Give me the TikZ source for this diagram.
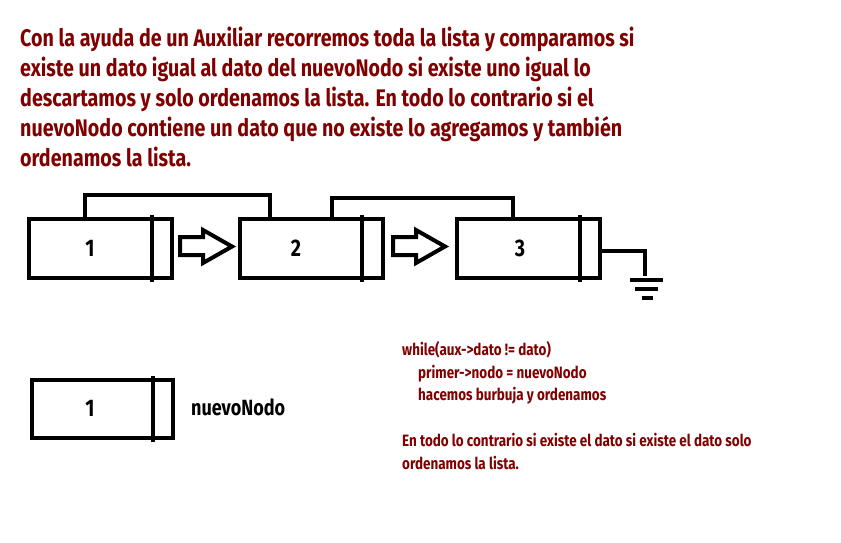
\documentclass[tikz,border=0pt]{standalone}
\usepackage{fontspec}
\newfontfamily\cond[FakeStretch=0.82]{Fira Sans}
\definecolor{dred}{RGB}{128,0,0}
\begin{document}
\begin{tikzpicture}[x=1pt,y=-1pt,
  lbox/.style={draw,line width=4pt,minimum width=143pt,minimum height=59pt,inner sep=0pt},
  wire/.style={line width=4pt},
  blockarrow/.style={draw,line width=4pt,line join=miter},
  num/.style={font=\cond\bfseries\fontsize{24}{24}\selectfont},
  code/.style={font=\cond\bfseries\fontsize{16.4}{22.8}\selectfont,text=dred,align=left,anchor=north west,inner sep=0pt}]
\useasboundingbox (0,0) rectangle (841,543);
% title
\node[anchor=north west,inner sep=0pt,align=left,text=dred,font=\cond\bfseries\fontsize{24}{30}\selectfont] (title) at (20,27)
 {Con la ayuda de un Auxiliar recorremos toda la lista y comparamos si\\
  existe un dato igual al dato del nuevoNodo si existe uno igual lo\\
  descartamos y solo ordenamos la lista. En todo lo contrario si el\\
  nuevoNodo contiene un dato que no existe lo agregamos y también\\
  ordenamos la lista.};
% list nodes
\node[lbox] (n1) at (100,248.5) {};
\node[lbox] (n2) at (311.5,248.5) {};
\node[lbox] (n3) at (528.5,248.5) {};
\draw[wire] (152,215) -- (152,282);
\draw[wire] (362,215) -- (362,282);
\draw[wire] (580,215) -- (580,282);
\node[num] (l1) at (90,248) {1};
\node[num] (l2) at (296,248) {2};
\node[num] (l3) at (520,248) {3};
% top links
\draw[wire] (85,219) |- (270,195) -- (n2.north -| 270,0);
\draw[wire] (332,219) |- (513,198) -- (n3.north -| 513,0);
% block arrows
\draw[blockarrow] (180,237) -- (203,237) -- (203,230) -- (232,246.5) -- (203,263) -- (203,255) -- (180,255) -- cycle;
\draw[blockarrow] (393,237) -- (416,237) -- (416,230) -- (445,246.5) -- (416,263) -- (416,255) -- (393,255) -- cycle;
% ground
\coordinate (g) at (645,276);
\draw[wire] (n3.east |- 0,251) -| (g);
\draw[wire] (630,280) -- (663,280);
\draw[wire] (635,289) -- (658,289);
\draw[wire] (642,298) -- (653,298);
% new node
\node[lbox,minimum width=141pt,minimum height=58pt] (nn) at (102.5,409) {};
\draw[wire] (153,376) -- (153,442);
\node[num] (ln) at (90,408) {1};
\node[anchor=west,inner sep=0pt,font=\cond\bfseries\fontsize{22}{22}\selectfont] (nnlab) at (191,407) {nuevoNodo};
% code
\node[code] (c1) at (402,341) {while(aux->dato != dato)\\
\hspace*{16pt}primer->nodo = nuevoNodo\\
\hspace*{16pt}hacemos burbuja y ordenamos\\[22.8pt]
En todo lo contrario si existe el dato si existe el dato solo\\
ordenamos la lista.};
\end{tikzpicture}
\end{document}
